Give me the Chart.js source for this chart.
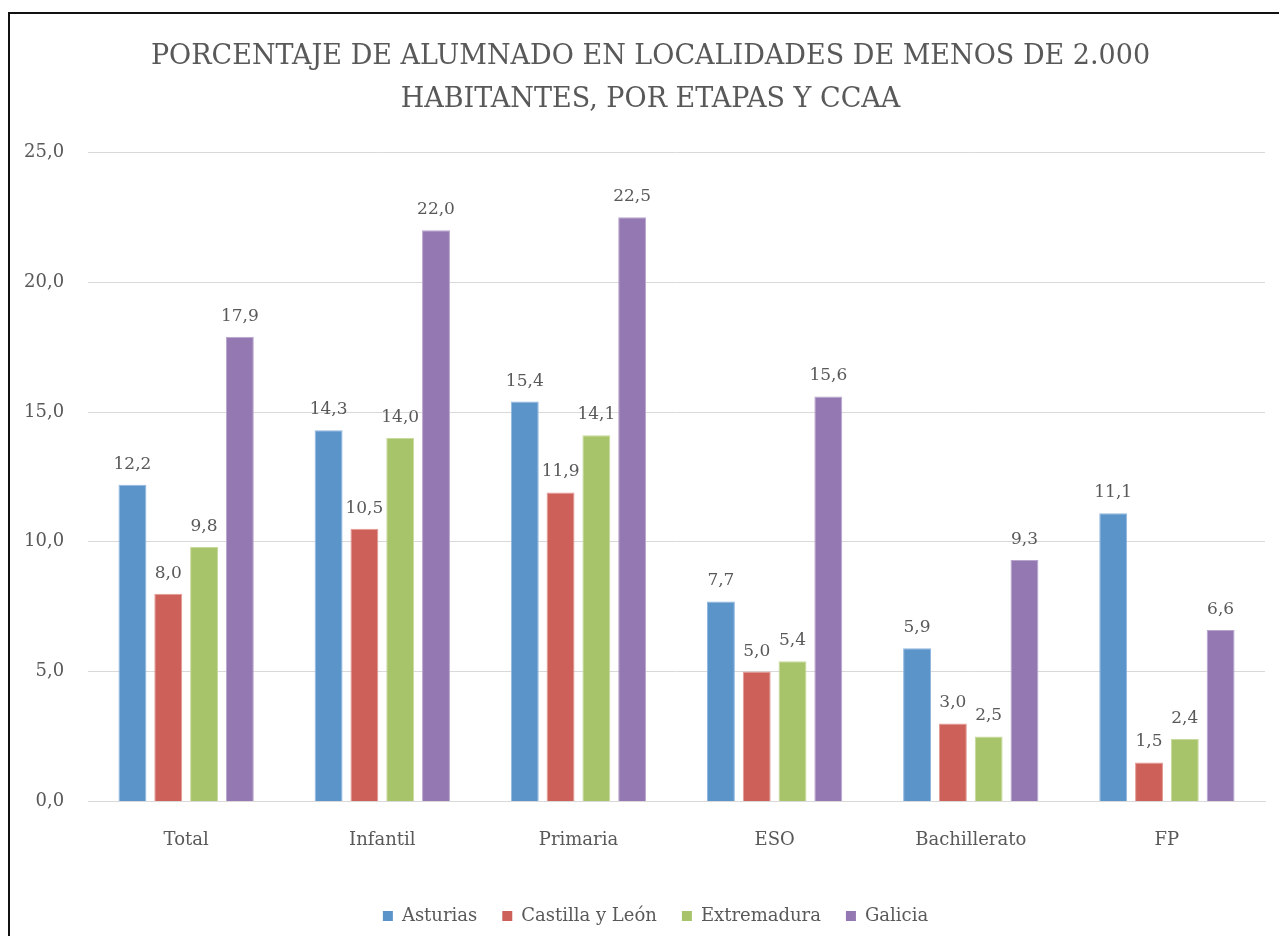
<!DOCTYPE html>
<html>
<head>
<meta charset="utf-8">
<script src="https://cdn.jsdelivr.net/npm/chart.js@4"></script>
<style>
  body { margin: 0; background: #fff; overflow: hidden; }
  #frame { position: absolute; left: 8px; top: 12px; width: 1300px; height: 960px; border-top: 2px solid #111; border-left: 2px solid #111; }
  #wrap { position: absolute; left: 0; top: 0; width: 1279px; height: 936px; }
</style>
</head>
<body>
<div id="frame"></div>
<div id="wrap"><canvas id="chart" width="1279" height="936"></canvas></div>
<script>
var categories = ["Total", "Infantil", "Primaria", "ESO", "Bachillerato", "FP"];
var asturias = [12.2, 14.3, 15.4, 7.7, 5.9, 11.1];
var castillaLeon = [8.0, 10.5, 11.9, 5.0, 3.0, 1.5];
var extremadura = [9.8, 14.0, 14.1, 5.4, 2.5, 2.4];
var galicia = [17.9, 22.0, 22.5, 15.6, 9.3, 6.6];
var seriesNames = ["Asturias", "Castilla y León", "Extremadura", "Galicia"];
var barColors = ["#5b94c9", "#cd6159", "#a8c46a", "#9378b1"];
var borderColors = ["#8fb6de", "#e49a94", "#c8da9c", "#b9a6cf"];

var fmt = function (v) { return v.toFixed(1).replace(".", ","); };
var serif = "'DejaVu Serif', serif";
var grey = "#595959";

var valueLabels = {
  id: "valueLabels",
  afterDatasetsDraw: function (chart) {
    var ctx = chart.ctx;
    ctx.save();
    ctx.font = "17px " + serif;
    ctx.fillStyle = grey;
    ctx.textAlign = "center";
    ctx.textBaseline = "bottom";
    chart.data.datasets.forEach(function (ds, i) {
      chart.getDatasetMeta(i).data.forEach(function (bar, j) {
        ctx.fillText(fmt(ds.data[j]), bar.x, bar.y - 12);
      });
    });
    ctx.restore();
  }
};

// title and legend sit a bit right of the plot centre in the original
var shiftBlocks = {
  id: "shiftBlocks",
  beforeDraw: function (chart) {
    if (chart._shifted) return;
    chart.titleBlock.left += 18; chart.titleBlock.right += 18;
    chart.legend.left += 23; chart.legend.right += 23;
    chart._shifted = true;
  }
};

var allSeries = [asturias, castillaLeon, extremadura, galicia];
var chart = new Chart("chart", {
  type: "bar",
  data: {
    labels: categories,
    datasets: allSeries.map(function (d, i) {
      return {
        label: seriesNames[i],
        data: d,
        backgroundColor: barColors[i],
        borderColor: borderColors[i],
        borderWidth: 1,
        categoryPercentage: 0.73,
        barPercentage: 0.78
      };
    })
  },
  options: {
    responsive: false,
    animation: false,
    layout: { padding: { left: 0, right: 14, top: 16, bottom: 1 } },
    plugins: {
      title: {
        display: true,
        text: ["PORCENTAJE DE ALUMNADO EN LOCALIDADES DE MENOS DE 2.000", "HABITANTES, POR ETAPAS Y CCAA"],
        color: grey,
        font: { family: serif, size: 27, weight: "normal", lineHeight: 1.6 },
        padding: { top: 19, bottom: 31 }
      },
      legend: {
        position: "bottom",
        labels: {
          color: grey,
          font: { family: serif, size: 18 },
          boxWidth: 10,
          boxHeight: 10,
          padding: 25,
          generateLabels: function (c) {
            return c.data.datasets.map(function (ds, i) {
              return { text: ds.label, fillStyle: barColors[i], strokeStyle: barColors[i], lineWidth: 0, datasetIndex: i, fontColor: grey };
            });
          }
        }
      },
      tooltip: { enabled: false }
    },
    scales: {
      x: {
        grid: { display: false },
        border: { color: "#d9d9d9", width: 1 },
        ticks: { color: grey, font: { family: serif, size: 18 }, padding: 20 },
        afterFit: function (s) { s.height += 11; }
      },
      y: {
        min: 0,
        max: 25,
        ticks: { stepSize: 5, color: grey, font: { family: serif, size: 18 }, padding: 24, callback: function (v) { return fmt(v); } },
        grid: { color: "#d9d9d9", lineWidth: 1, drawTicks: false },
        border: { display: false }
      }
    }
  },
  plugins: [valueLabels, shiftBlocks]
});
</script>
</body>
</html>
